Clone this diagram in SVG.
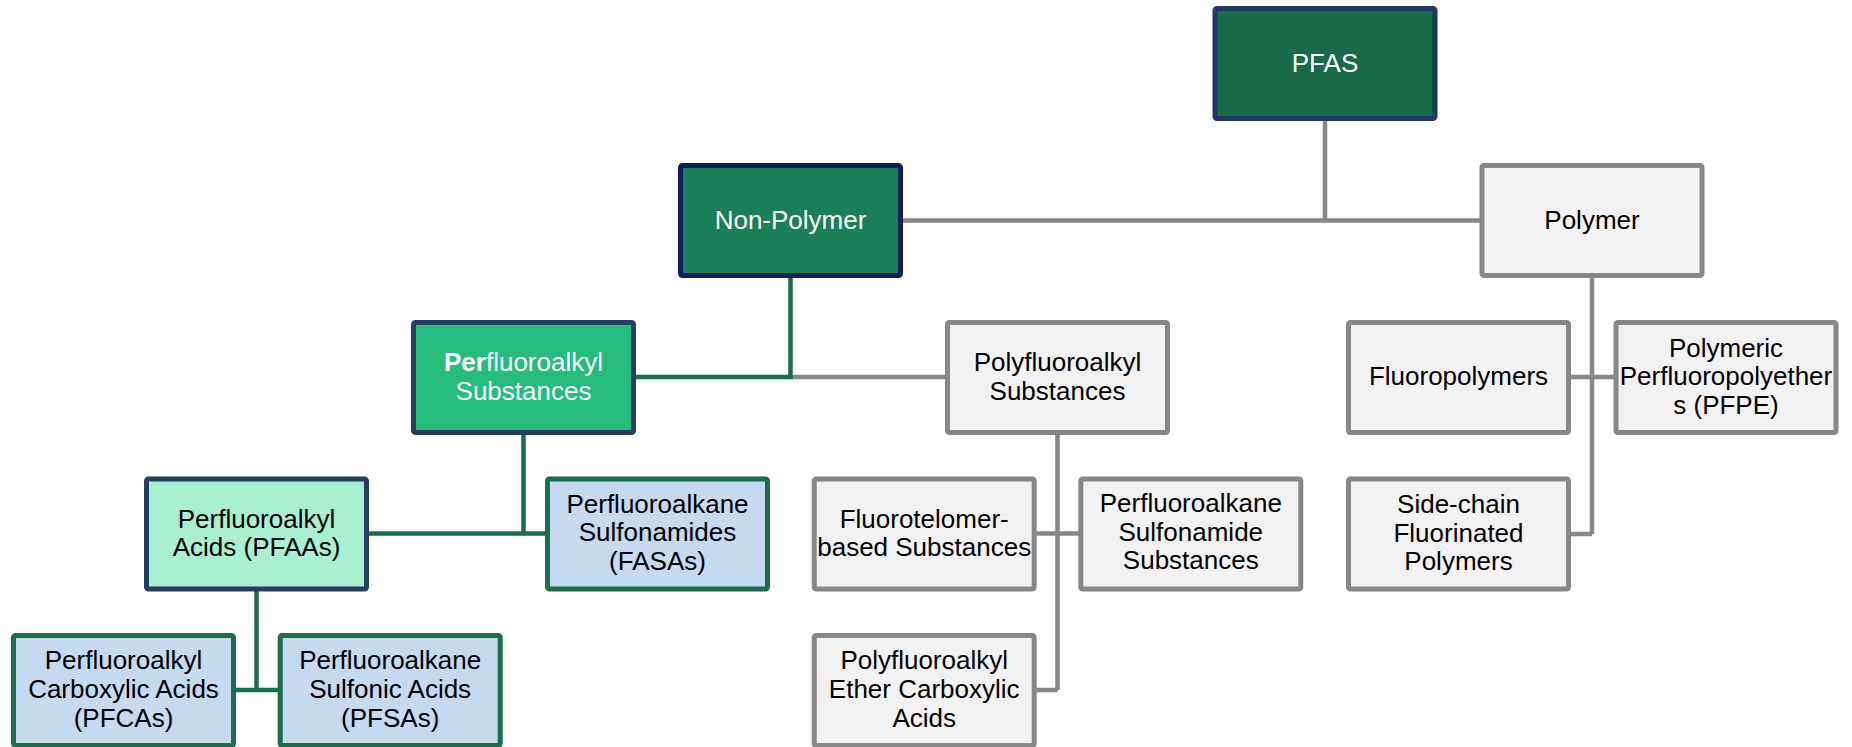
<svg xmlns="http://www.w3.org/2000/svg" width="1852" height="747" viewBox="0 0 1852 747">
<style>
.b{stroke-width:5}
.dk{fill:#176B4B;stroke:#1F3864}
.np{fill:#1A7F5A;stroke:#0B1F5C}
.ps{fill:#26BB7F;stroke:#243F60}
.pa{fill:#ABEFD3;stroke:#243F60}
.bl{fill:#C5D9F1;stroke:#1B6D4B}
.gr{fill:#F2F2F2;stroke:#878787}
text{font-family:"Liberation Sans",Arial,sans-serif;font-size:26px;text-anchor:middle;fill:#000}
.w{fill:#fff}
.cg{stroke:#878787;stroke-width:4.5;fill:none}
.cn{stroke:#1B6D4B;stroke-width:4.5;fill:none}
</style>
<rect width="1852" height="747" fill="#fff"/>
<g id="connectors">
<path class="cg" d="M1325 118V220.5M903 220.5H1481"/>
<path class="cg" d="M1592 276V534M1569 377H1615M1569 534H1592"/>
<path class="cg" d="M790.5 377H946"/>
<path class="cg" d="M1057.5 432V690M1035 533.5H1080M1035 690H1057.5"/>
<path class="cn" d="M790.5 275V377H634"/>
<path class="cn" d="M523.5 432V533.5M367 533.5H547"/>
<path class="cn" d="M256.5 589V690M234 690H279"/>
</g>
<g id="pfas"><rect class="b dk" x="1215" y="8.5" width="220" height="110" rx="2"/><text class="w" x="1325" y="72">PFAS</text></g>
<g id="non-polymer"><rect class="b np" x="680.5" y="165.5" width="220" height="110" rx="2"/><text class="w" x="790.5" y="229">Non-Polymer</text></g>
<g id="polymer"><rect class="b gr" x="1482" y="165.5" width="220" height="110" rx="2"/><text x="1592" y="229">Polymer</text></g>
<g id="perfluoroalkyl-substances"><rect class="b ps" x="413.5" y="322.5" width="220" height="110" rx="2"/><text class="w" x="523.5" y="371"><tspan font-weight="bold">Per</tspan>fluoroalkyl</text><text class="w" x="523.5" y="399.5">Substances</text></g>
<g id="polyfluoroalkyl-substances"><rect class="b gr" x="947.5" y="322.5" width="220" height="110" rx="2"/><text x="1057.5" y="371">Polyfluoroalkyl</text><text x="1057.5" y="399.5">Substances</text></g>
<g id="fluoropolymers"><rect class="b gr" x="1348.5" y="322.5" width="220" height="110" rx="2"/><text x="1458.5" y="385">Fluoropolymers</text></g>
<g id="pfpe"><rect class="b gr" x="1616" y="322.5" width="220" height="110" rx="2"/><text x="1726" y="356.5">Polymeric</text><text x="1726" y="385">Perfluoropolyether</text><text x="1726" y="413.5">s (PFPE)</text></g>
<g id="pfaas"><rect class="b pa" x="146.5" y="479" width="220" height="110" rx="2"/><text x="256.5" y="527.5">Perfluoroalkyl</text><text x="256.5" y="556">Acids (PFAAs)</text></g>
<g id="fasas"><rect class="b bl" x="547.5" y="479" width="220" height="110" rx="2"/><text x="657.5" y="512.5">Perfluoroalkane</text><text x="657.5" y="541">Sulfonamides</text><text x="657.5" y="569.5">(FASAs)</text></g>
<g id="fluorotelomer"><rect class="b gr" x="814.2" y="479" width="220" height="110" rx="2"/><text x="924.2" y="527.5">Fluorotelomer-</text><text x="924.2" y="556">based Substances</text></g>
<g id="sulfonamide-substances"><rect class="b gr" x="1080.8" y="479" width="220" height="110" rx="2"/><text x="1190.8" y="512">Perfluoroalkane</text><text x="1190.8" y="540.5">Sulfonamide</text><text x="1190.8" y="569">Substances</text></g>
<g id="side-chain"><rect class="b gr" x="1348.5" y="479" width="220" height="110" rx="2"/><text x="1458.5" y="513">Side-chain</text><text x="1458.5" y="541.5">Fluorinated</text><text x="1458.5" y="570">Polymers</text></g>
<g id="pfcas"><rect class="b bl" x="13.5" y="635.5" width="220" height="110" rx="2"/><text x="123.5" y="669">Perfluoroalkyl</text><text x="123.5" y="698">Carboxylic Acids</text><text x="123.5" y="726.5">(PFCAs)</text></g>
<g id="pfsas"><rect class="b bl" x="280.2" y="635.5" width="220" height="110" rx="2"/><text x="390.2" y="669">Perfluoroalkane</text><text x="390.2" y="698">Sulfonic Acids</text><text x="390.2" y="726.5">(PFSAs)</text></g>
<g id="ether-carboxylic"><rect class="b gr" x="814.2" y="635.5" width="220" height="110" rx="2"/><text x="924.2" y="669">Polyfluoroalkyl</text><text x="924.2" y="698">Ether Carboxylic</text><text x="924.2" y="726.5">Acids</text></g>
</svg>
